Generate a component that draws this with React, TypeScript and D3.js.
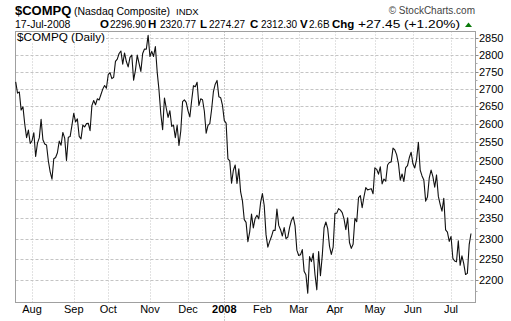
import React from 'react';
import * as d3 from 'd3';

// Nasdaq Composite daily closes, 19-Jul-2007 .. 17-Jul-2008
const closesJul07 = [2720.04, 2687.6, 2690.58, 2639.16, 2648.17, 2599.34, 2562.24, 2583.28, 2546.27];
const closesAug07 = [2553.87, 2575.98, 2511.25, 2547.33, 2561.61, 2612.98, 2556.49, 2544.89, 2542.24, 2499.12, 2470.25, 2451.07, 2505.03, 2508.59, 2521.3, 2552.8, 2541.7, 2576.69, 2561.25, 2500.64, 2563.16, 2565.3, 2596.36];
const closesSep07 = [2630.24, 2605.95, 2614.32, 2565.7, 2559.11, 2597.04, 2592.07, 2601.06, 2602.18, 2581.66, 2651.66, 2666.48, 2654.29, 2671.22, 2667.95, 2683.45, 2699.03, 2709.59, 2701.5];
const closesOct07 = [2740.99, 2747.11, 2729.43, 2733.64, 2780.32, 2787.37, 2803.91, 2811.61, 2772.2, 2805.68, 2780.05, 2763.91, 2792.67, 2799.31, 2725.16, 2753.93, 2799.26, 2774.76, 2750.86, 2804.19, 2817.43, 2816.71, 2859.12];
const closesNov07 = [2794.83, 2810.38, 2795.18, 2825.18, 2748.76, 2696.0, 2627.94, 2584.13, 2673.65, 2644.33, 2618.51, 2637.24, 2593.38, 2596.81, 2562.15, 2596.6, 2540.99, 2580.8, 2662.91, 2668.13, 2660.96];
const closesDec07 = [2637.13, 2619.83, 2666.36, 2709.03, 2706.16, 2718.95, 2652.35, 2671.14, 2668.49, 2635.74, 2574.46, 2596.03, 2601.01, 2640.86, 2691.99, 2713.5, 2724.41, 2676.79, 2674.46, 2652.28];
const closesJan08 = [2609.63, 2602.68, 2504.65, 2499.46, 2440.51, 2474.55, 2488.52, 2439.94, 2478.3, 2417.59, 2394.59, 2346.9, 2340.02, 2292.27, 2316.41, 2360.92, 2326.2, 2349.91, 2358.06, 2349.0, 2389.86];
const closesFeb08 = [2413.36, 2382.85, 2309.57, 2278.75, 2293.03, 2304.85, 2320.06, 2320.04, 2373.93, 2332.54, 2321.8, 2306.2, 2327.1, 2299.78, 2303.35, 2327.48, 2345.04, 2353.78, 2331.57, 2271.48];
const closesMar08 = [2258.6, 2260.28, 2272.81, 2220.5, 2212.49, 2169.34, 2255.76, 2243.87, 2263.61, 2212.49, 2177.01, 2268.26, 2209.96, 2258.11, 2326.75, 2341.05, 2324.36, 2280.83, 2261.18, 2279.1];
const closesApr08 = [2362.75, 2363.3, 2374.91, 2370.98, 2364.83, 2348.76, 2322.12, 2351.7, 2290.24, 2275.82, 2286.04, 2350.11, 2341.83, 2402.97, 2408.04, 2376.94, 2405.21, 2428.92, 2422.93, 2424.4, 2426.1, 2412.8];
const closesMay08 = [2480.71, 2476.93, 2464.1, 2483.31, 2438.49, 2451.24, 2445.52, 2488.49, 2495.12, 2496.7, 2533.73, 2528.85, 2516.09, 2492.26, 2448.27, 2464.58, 2444.67, 2481.24, 2486.7, 2508.32, 2522.66];
const closesJun08 = [2491.53, 2480.48, 2503.14, 2549.94, 2474.56, 2459.46, 2448.94, 2394.01, 2404.35, 2454.5, 2474.78, 2457.73, 2429.71, 2462.07, 2406.09, 2385.74, 2368.28, 2401.26, 2321.37, 2315.63, 2292.98];
const closesJul08 = [2304.97, 2251.46, 2245.38, 2243.32, 2294.44, 2234.89, 2257.85, 2239.08, 2212.87, 2215.71, 2284.85, 2312.3];

const closes = [
  ...closesJul07, ...closesAug07, ...closesSep07, ...closesOct07, ...closesNov07, ...closesDec07,
  ...closesJan08, ...closesFeb08, ...closesMar08, ...closesApr08, ...closesMay08, ...closesJun08, ...closesJul08,
];

const firstDay = '2007-07-19';
const holidays = ['2007-09-03', '2007-11-22', '2007-12-25', '2008-01-01', '2008-01-21', '2008-02-18', '2008-03-21', '2008-05-26', '2008-07-04'];
const monthNames = ['Jan', 'Feb', 'Mar', 'Apr', 'May', 'Jun', 'Jul', 'Aug', 'Sep', 'Oct', 'Nov', 'Dec'];
const yTicks = [2200, 2250, 2300, 2350, 2400, 2450, 2500, 2550, 2600, 2650, 2700, 2750, 2800, 2850];
const yMinorTicks = [2175, 2225, 2275, 2325, 2375, 2425, 2475, 2525, 2575, 2625, 2675, 2725, 2775, 2825];

const headerSymbol = '$COMPQ';
const headerName = '(Nasdaq Composite)';
const headerExch = 'INDX';
const headerDate = '17-Jul-2008';
const quoteLabels = ['O', 'H', 'L', 'C', 'V', 'Chg'];
const quoteValues = ['2296.90', '2320.77', '2274.27', '2312.30', '2.6B'];
const chgText = '+27.45 (+1.20%)';

const W = 511;
const H = 321;
const L = 15.5, R = 475.5, T = 31.5, B = 302.5;
const FONT = 'Arial, "Liberation Sans", sans-serif';

function tradingDays(n: number): Date[] {
  const fmt = d3.timeFormat('%Y-%m-%d');
  const out: Date[] = [];
  let d = d3.timeParse('%Y-%m-%d')(firstDay) as Date;
  while (out.length < n) {
    const wd = d.getDay();
    if (wd !== 0 && wd !== 6 && !holidays.includes(fmt(d))) out.push(d);
    d = d3.timeDay.offset(d, 1);
  }
  return out;
}

export default function App() {
  const dates = tradingDays(closes.length);
  const x = d3.scaleLinear().domain([0, closes.length - 1]).range([15.7, 471]);
  const y = d3.scaleLog().domain([2148.8, 2872.4]).range([302, 31]);
  const line = d3.line<number>().x((_, i) => x(i)).y((d) => y(d));

  const monthStarts: { i: number; label: string; year: boolean }[] = [];
  dates.forEach((d, i) => {
    if (i > 0 && d.getMonth() !== dates[i - 1].getMonth()) {
      const yr = d.getMonth() === 0;
      monthStarts.push({ i, label: yr ? String(d.getFullYear()) : monthNames[d.getMonth()], year: yr });
    }
  });

  const quoteX = [100, 148, 200, 250, 300, 332];
  const valueX = [110, 160, 209, 261, 309];

  return (
    <svg width={W} height={H} style={{ position: 'absolute', left: 0, top: 0, background: '#fff' }} fontFamily={FONT}>
      <rect x={0} y={0} width={W} height={H} fill="#fff" />
      {/* header */}
      <text x={15} y={14.5} fontSize={13} fontWeight="bold" fill="#000">{headerSymbol}</text>
      <text x={74} y={14.5} fontSize={10.5} fill="#000" textLength={96} lengthAdjust="spacingAndGlyphs">{headerName}</text>
      <text x={176} y={14.5} fontSize={9.5} fill="#000">{headerExch}</text>
      <text x={475} y={14} fontSize={10} fill="#444" textAnchor="end">© StockCharts.com</text>
      <text x={15} y={28} fontSize={10.5} fill="#000">{headerDate}</text>
      {quoteLabels.map((q, k) => (
        <text key={q} x={quoteX[k]} y={28} fontSize={11.5} fontWeight="bold" fill="#000">{q}</text>
      ))}
      {quoteValues.map((v, k) => (
        <text key={'v' + k} x={valueX[k]} y={28} fontSize={10} fill="#000">{v}</text>
      ))}
      <text x={358} y={28} fontSize={11} fill="#000" textLength={102} lengthAdjust="spacingAndGlyphs">{chgText}</text>
      <path d="M465,27 L468.5,22.5 L472,27 Z" fill="#0a7a0a" />

      {/* grid */}
      {yTicks.map((t) => (
        <line key={'h' + t} x1={L} x2={R} y1={Math.round(y(t)) + 0.5} y2={Math.round(y(t)) + 0.5}
          stroke="#c4c4c4" strokeDasharray="3,2" />
      ))}
      {monthStarts.map((m) => (
        <line key={'v' + m.i} x1={Math.round(x(m.i)) + 0.5} x2={Math.round(x(m.i)) + 0.5} y1={T} y2={m.year ? H : B}
          stroke={m.year ? '#999' : '#c4c4c4'} strokeDasharray="1,2" />
      ))}

      {/* label box */}
      <rect x={16} y={32} width={90} height={11} fill="#fff" />
      <text x={17} y={41} fontSize={11.5} fill="#000" textLength={88} lengthAdjust="spacingAndGlyphs">$COMPQ (Daily)</text>

      {/* frame */}
      <rect x={L} y={T} width={R - L} height={B - T} fill="none" stroke="#a0a0a0" />

      {/* right axis */}
      {yTicks.map((t) => (
        <g key={'t' + t}>
          <line x1={R} x2={R + 3} y1={Math.round(y(t)) + 0.5} y2={Math.round(y(t)) + 0.5} stroke="#888" />
          <text x={479} y={y(t) + 4} fontSize={11} fill="#000">{t}</text>
        </g>
      ))}
      {yMinorTicks.map((t) => (
        <line key={'m' + t} x1={R} x2={R + 2} y1={Math.round(y(t)) + 0.5} y2={Math.round(y(t)) + 0.5} stroke="#aaa" />
      ))}

      {/* x labels */}
      {monthStarts.map((m) => (
        <text key={'l' + m.i} x={x(m.i)} y={313} fontSize={11} textAnchor="middle"
          fontWeight={m.year ? 'bold' : 'normal'} fill="#000">{m.label}</text>
      ))}

      {/* price line */}
      <path d={line(closes) || ''} fill="none" stroke="#111" strokeWidth={1.1} strokeLinejoin="round" />
    </svg>
  );
}
